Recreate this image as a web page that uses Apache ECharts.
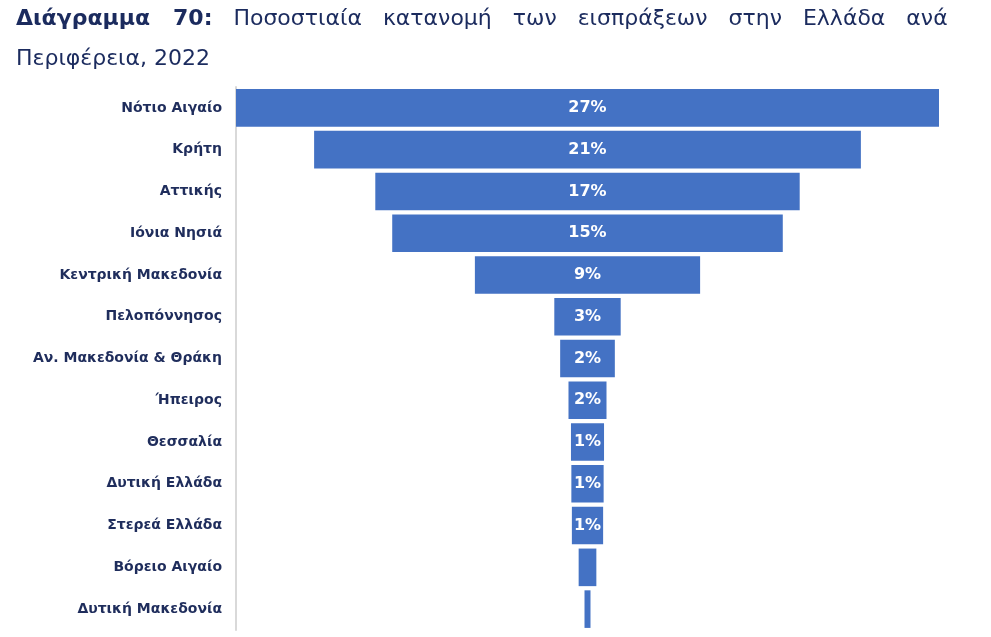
<!DOCTYPE html>
<html>
<head>
<meta charset="utf-8">
<style type="text/css">
html,body{margin:0;padding:0;background:#fff;}
.charts{width: 991px; height: 637px;}
</style>
</head>
<body>
<div class="charts" id="funnel"></div>
<script src="https://cdn.jsdelivr.net/npm/echarts@6/dist/echarts.min.js"></script>
<script type="text/javascript">
var regions = ['Νότιο Αιγαίο', 'Κρήτη', 'Αττικής', 'Ιόνια Νησιά', 'Κεντρική Μακεδονία', 'Πελοπόννησος',
    'Αν. Μακεδονία & Θράκη', 'Ήπειρος', 'Θεσσαλία', 'Δυτική Ελλάδα', 'Στερεά Ελλάδα', 'Βόρειο Αιγαίο', 'Δυτική Μακεδονία'];
var shares = [27, 21.0, 16.3, 15.0, 8.65, 2.55, 2.1, 1.46, 1.27, 1.24, 1.2, 0.68, 0.23];
var shareLabels = ['27%', '21%', '17%', '15%', '9%', '3%', '2%', '2%', '1%', '1%', '1%', '', ''];

var maxShare = Math.max.apply(null, shares);
// transparent spacer so every bar sits centred
var spacer = shares.map(function(v){ return (maxShare - v) / 2; });

var chart = echarts.init(document.getElementById("funnel"));
var option = {
    animation: false,
    title: {
        left: 11,
        top: -6,
        text: '{b|Διάγραμμα   70:}   Ποσοστιαία   κατανομή   των   εισπράξεων   στην   Ελλάδα   ανά\nΠεριφέρεια, 2022',
        textStyle: {
            fontFamily: 'DejaVu Sans',
            fontSize: 22,
            fontWeight: 'normal',
            color: '#1B2B5E',
            lineHeight: 40,
            rich: {
                b: {fontFamily: 'DejaVu Sans', fontSize: 22, fontWeight: 'bold', color: '#1B2B5E', lineHeight: 40}
            }
        }
    },
    grid: {left: 236, right: 52, top: 87, height: 543},
    xAxis: {
        type: 'value',
        min: 0,
        max: maxShare,
        show: false
    },
    yAxis: {
        type: 'category',
        inverse: true,
        data: regions,
        axisTick: {show: false},
        axisLine: {show: true, lineStyle: {color: '#D9D9D9', width: 2}},
        axisLabel: {
            margin: 14,
            fontFamily: 'DejaVu Sans',
            fontSize: 14,
            fontWeight: 'bold',
            color: '#1F2D5C'
        }
    },
    series: [
        {
            name: 'spacer',
            type: 'bar',
            stack: 'f',
            silent: true,
            itemStyle: {color: 'transparent'},
            data: spacer
        },
        {
            name: 'Ποσοστό',
            type: 'bar',
            stack: 'f',
            barCategoryGap: '10%',
            itemStyle: {color: '#4472C4'},
            label: {
                show: true,
                position: 'inside',
                color: '#fff',
                fontFamily: 'DejaVu Sans',
                fontWeight: 'bold',
                fontSize: 16,
                formatter: function(p){ return shareLabels[p.dataIndex]; }
            },
            data: shares
        }
    ]
};
chart.setOption(option);
</script>
</body>
</html>
